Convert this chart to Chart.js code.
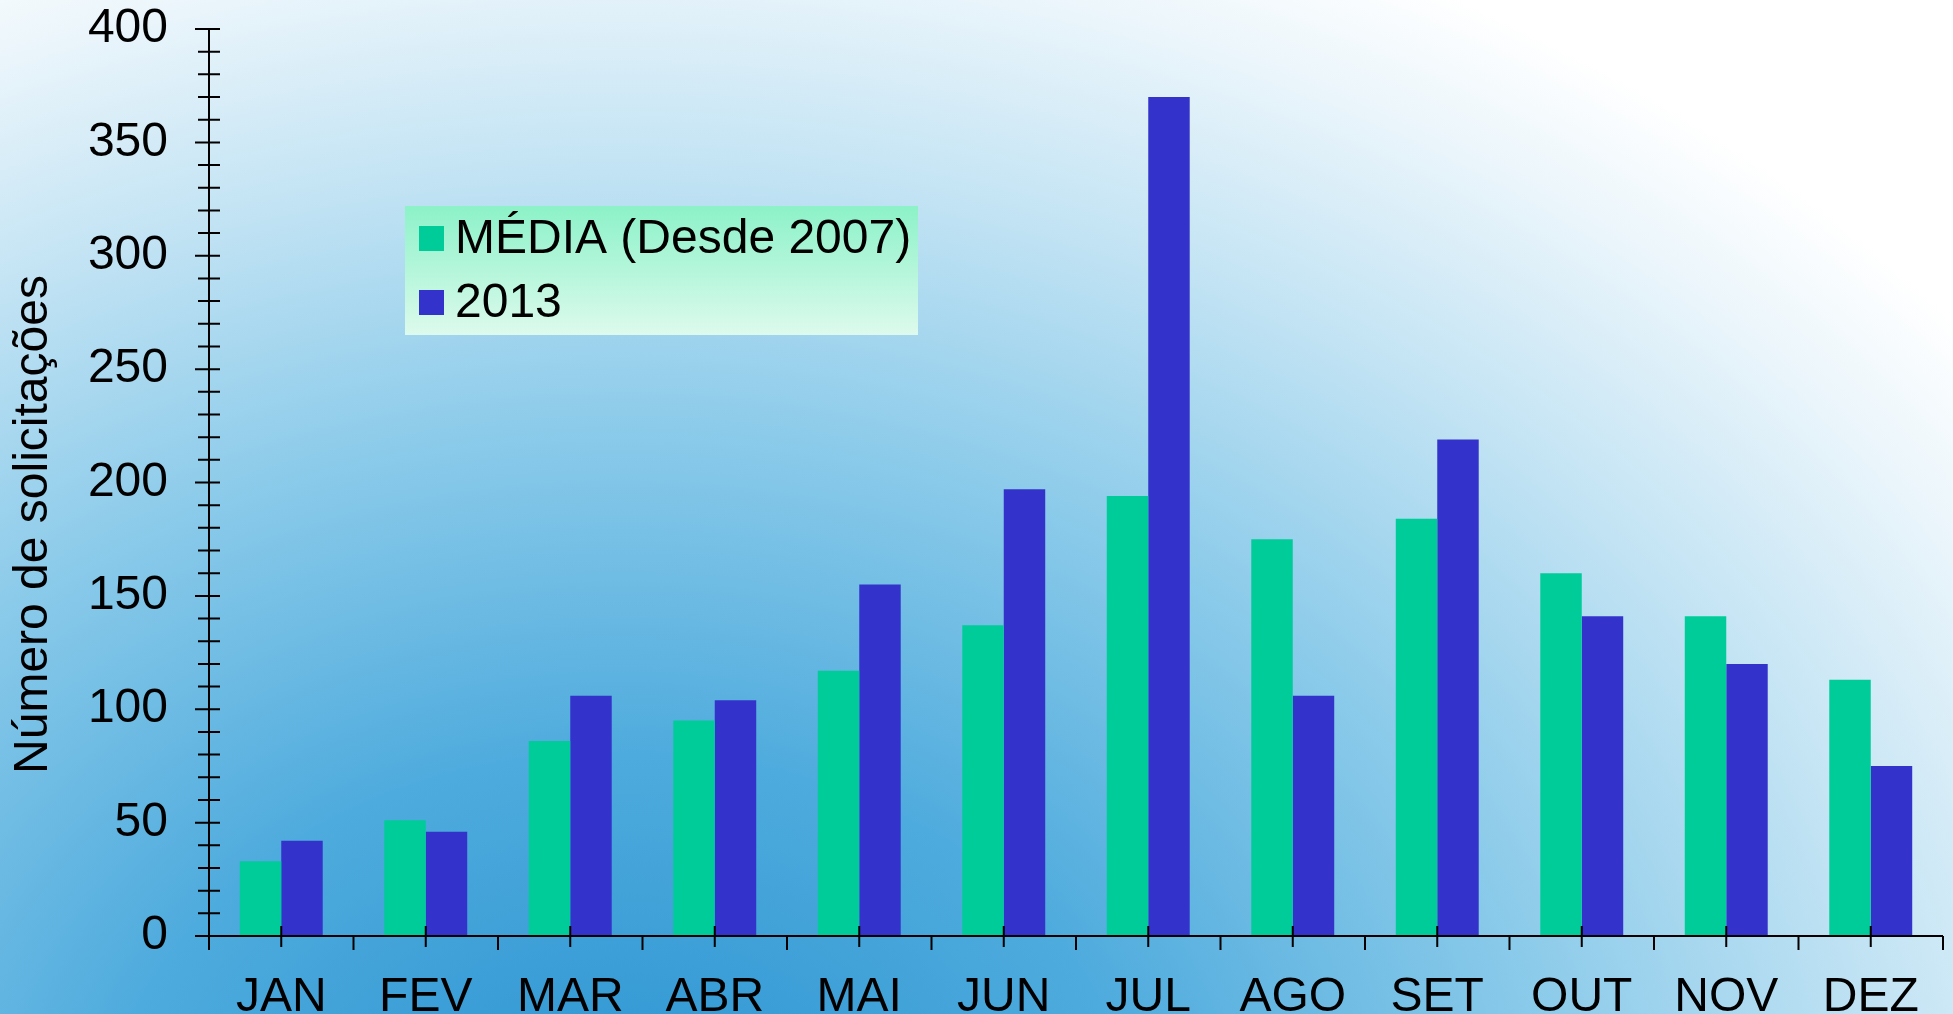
<!DOCTYPE html>
<html>
<head>
<meta charset="utf-8">
<script src="https://cdn.jsdelivr.net/npm/chart.js@4.4.0/dist/chart.umd.min.js"></script>
<style>
  html, body { margin: 0; padding: 0; overflow: hidden; }
  #wrap { position: relative; width: 1953px; height: 1014px; }
</style>
</head>
<body>
<div id="wrap"><canvas id="my-chart" width="1953" height="1014"></canvas></div>
<script>
const months = ['JAN', 'FEV', 'MAR', 'ABR', 'MAI', 'JUN', 'JUL', 'AGO', 'SET', 'OUT', 'NOV', 'DEZ'];
const media = [33, 51, 86, 95, 117, 137, 194, 175, 184, 160, 141, 113];
const ano2013 = [42, 46, 106, 104, 155, 197, 370, 106, 219, 141, 120, 75];
const seriesNames = ['MÉDIA (Desde 2007)', '2013'];
const seriesColors = ['#00CC99', '#3333CC'];
const yTitle = 'Número de solicitações';

const FONT = '"Liberation Sans", Arial, sans-serif';

// background gradient behind everything
const bgPlugin = {
  id: 'bg',
  beforeDraw(chart) {
    const ctx = chart.ctx;
    const w = chart.width, h = chart.height;
    ctx.save();
    ctx.translate(620, 1150);
    ctx.scale(1.3, 1);
    const g = ctx.createRadialGradient(0, 0, 0, 0, 0, 1320);
    g.addColorStop(0, '#2b93d1');
    g.addColorStop(0.3, '#4eabdd');
    g.addColorStop(0.55, '#8ccbea');
    g.addColorStop(0.75, '#c4e4f4');
    g.addColorStop(0.9, '#eaf5fb');
    g.addColorStop(1, '#ffffff');
    ctx.fillStyle = g;
    ctx.fillRect(-620 / 1.3 - 10, -1160, w / 1.3 + 20, h + 20);
    ctx.restore();
  }
};

// axis lines, tick marks and the y title, placed from the chart's scales
const axesPlugin = {
  id: 'axesMarks',
  afterDatasetsDraw(chart) {
    const ctx = chart.ctx;
    const xs = chart.scales.x, ys = chart.scales.y;
    const area = chart.chartArea;
    const y0 = ys.getPixelForValue(0);
    ctx.save();
    ctx.strokeStyle = '#000';
    ctx.lineWidth = 2;
    ctx.beginPath();
    ctx.moveTo(area.left, ys.getPixelForValue(400));
    ctx.lineTo(area.left, y0 + 14);
    ctx.moveTo(area.left - 14, y0);
    ctx.lineTo(area.right, y0);
    for (let v = 0; v <= 400; v += 10) {
      const py = ys.getPixelForValue(v);
      ctx.moveTo(area.left - (v % 50 === 0 ? 14 : 11), py);
      ctx.lineTo(area.left + 11, py);
    }
    const cw = (area.right - area.left) / months.length;
    months.forEach((m, i) => {
      const cx = xs.getPixelForValue(i);
      ctx.moveTo(cx, y0 - 10);
      ctx.lineTo(cx, y0 + 11);
      ctx.moveTo(cx + cw / 2, y0);
      ctx.lineTo(cx + cw / 2, y0 + 14);
    });
    ctx.stroke();

    // y title, a bit below the middle of the axis as in the original
    ctx.translate(34, (area.top + area.bottom) / 2 + 42);
    ctx.rotate(-Math.PI / 2);
    ctx.font = '48px ' + FONT;
    ctx.textAlign = 'center';
    ctx.textBaseline = 'middle';
    ctx.fillStyle = '#000';
    ctx.fillText(yTitle, 0, 0);
    ctx.restore();
  }
};

// legend box inside the plot
const legendPlugin = {
  id: 'boxLegend',
  afterDraw(chart) {
    const ctx = chart.ctx;
    const bx = 405, by = 206, bw = 513, bh = 129;
    ctx.save();
    const g = ctx.createLinearGradient(0, by, 0, by + bh);
    g.addColorStop(0, '#8cf2c8');
    g.addColorStop(1, '#ddfaed');
    ctx.fillStyle = g;
    ctx.fillRect(bx, by, bw, bh);
    ctx.font = '48px ' + FONT;
    ctx.textBaseline = 'middle';
    chart.data.datasets.forEach((ds, i) => {
      const my = 226 + i * 64;
      ctx.fillStyle = ds.backgroundColor;
      ctx.fillRect(419, my, 25, 25);
      ctx.fillStyle = '#000';
      ctx.fillText(ds.label, 455, my + 14);
    });
    ctx.restore();
  }
};

const ctx = document.getElementById('my-chart').getContext('2d');
const chart = new Chart(ctx, {
  type: 'bar',
  data: {
    labels: months,
    datasets: [
      { label: seriesNames[0], data: media, backgroundColor: seriesColors[0] },
      { label: seriesNames[1], data: ano2013, backgroundColor: seriesColors[1] }
    ]
  },
  options: {
    responsive: false,
    animation: false,
    events: [],
    layout: { padding: { top: 29, right: 10, left: 0, bottom: 0 } },
    datasets: { bar: { categoryPercentage: 0.574, barPercentage: 1.0 } },
    plugins: {
      legend: { display: false },
      tooltip: { enabled: false }
    },
    scales: {
      x: {
        grid: { display: false, drawTicks: false },
        border: { display: false },
        ticks: { color: '#000', font: { family: FONT, size: 48 }, padding: 33, maxRotation: 0, autoSkip: false },
        afterFit(scale) {
          scale.height = 78;
          scale.paddingLeft = 0;
          scale.paddingRight = 0;
        }
      },
      y: {
        min: 0, max: 400,
        grid: { display: false, drawTicks: false },
        border: { display: false },
        ticks: { stepSize: 50, color: '#000', font: { family: FONT, size: 48 }, padding: 41 },
        afterFit(scale) {
          scale.width = 209;
          scale.paddingTop = 0;
          scale.paddingBottom = 0;
        }
      }
    }
  },
  plugins: [bgPlugin, axesPlugin, legendPlugin]
});
</script>
</body>
</html>
